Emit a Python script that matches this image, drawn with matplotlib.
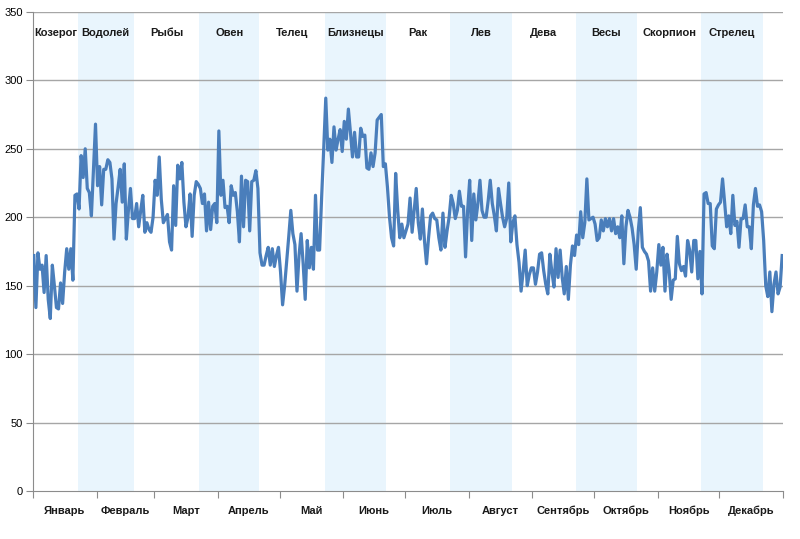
import numpy as np
import matplotlib
matplotlib.use('Agg')
import matplotlib.pyplot as plt

# Значения по дням (0 = 1 января)
values = [
    172, 134, 174, 162, 165, 145, 172, 140, 126, 165, 150, 134, 133, 152, 137, 160,
    177, 162, 177, 154, 216, 217, 206, 245, 229, 250, 221, 218, 201, 235, 268,
    223, 237, 209, 235, 235, 242, 240, 228, 184, 210, 222, 235, 211, 239, 184,
    205, 221, 199, 199, 210, 193, 205, 216, 189, 196, 191, 189, 200,
    227, 216, 244, 213, 196, 199, 202, 182, 176, 223, 194, 238, 228, 240, 211,
    193, 200, 217, 186, 216, 226, 224, 221, 210, 217, 190, 211, 191, 208, 210,
    196, 263, 216, 227, 207, 208, 196, 223, 216, 218, 204, 182, 230, 193, 227,
    226, 190, 226, 227, 234, 221, 174, 165, 165, 172, 178, 165, 177, 164, 172,
    178, 160, 136, 150, 168, 186, 205, 188, 180, 146, 172, 188, 166, 140, 183,
    163, 178, 162, 216, 176, 176, 215, 250, 287, 249, 257, 240, 266, 249, 257,
    264, 248, 270, 257, 279, 262, 244, 262, 244, 244, 265, 259, 260, 236, 235,
    247, 237, 247, 271, 273, 275, 237, 239, 222, 200, 185, 179, 232, 205, 185,
    195, 185, 190, 195, 214, 189, 205, 221, 196, 184, 206, 183, 166, 185, 201,
    203, 199, 198, 185, 176, 203, 178, 190, 200, 216, 210, 199, 205, 219, 208,
    208, 171, 205, 227, 183, 217, 198, 210, 227, 205, 200, 200, 212, 227, 210,
    201, 190, 221, 210, 200, 193, 199, 225, 182, 196, 201, 180, 167, 146, 160,
    176, 150, 158, 163, 163, 151, 160, 173, 174, 161, 151, 144, 173, 160, 149,
    177, 156, 176, 156, 144, 164, 140, 165, 179, 172, 187, 180, 204, 185, 196,
    228, 198, 199, 200, 195, 183, 185, 198, 190, 199, 193, 199, 190, 199, 188,
    193, 185, 201, 166, 193, 205, 200, 192, 180, 162, 190, 207, 178, 175, 173,
    168, 146, 163, 146, 160, 180, 165, 178, 146, 173, 161, 140, 154, 155, 186,
    166, 161, 164, 157, 183, 176, 160, 183, 183, 155, 175, 144, 217, 218, 210,
    210, 179, 177, 206, 209, 211, 228, 211, 193, 201, 188, 216, 194, 197, 178,
    199, 199, 209, 193, 193, 177, 209, 221, 208, 209, 204, 183, 150, 142, 160,
    131, 151, 160, 144, 149, 172,
]

months = ['Январь', 'Февраль', 'Март', 'Апрель', 'Май', 'Июнь', 'Июль',
          'Август', 'Сентябрь', 'Октябрь', 'Ноябрь', 'Декабрь']
month_start = [0, 31, 59, 90, 120, 151, 181, 212, 243, 273, 304, 334, 365]

signs = ['Козерог', 'Водолей', 'Рыбы', 'Овен', 'Телец', 'Близнецы', 'Рак',
         'Лев', 'Дева', 'Весы', 'Скорпион', 'Стрелец', '']
sign_start = [0, 22, 49, 81, 110, 142, 172, 203, 233, 264, 294, 325, 355, 365]

plt.rcParams['font.family'] = ['Liberation Sans', 'DejaVu Sans']

fig = plt.figure(figsize=(8, 5.39), dpi=100)
ax = fig.add_axes([0.041, 0.089, 0.938, 0.889])

days = np.arange(len(values))

# полосы знаков зодиака (через один)
for k in range(len(signs)):
    a, b = sign_start[k] - 0.5, sign_start[k + 1] - 0.5
    if k % 2 == 1:
        ax.axvspan(a, b, color='#E9F5FD', lw=0, zorder=0)
    if signs[k]:
        ax.text((a + b) / 2, 332.5, signs[k], ha='center', va='baseline',
                fontsize=8, fontweight='bold', color='#1a1a1a')

for yv in range(50, 351, 50):
    ax.axhline(yv, color='#A6A6A6', lw=1, zorder=1)

ax.plot(days, values, color='#4A7EBB', lw=2.3, zorder=3, solid_joinstyle='round')

ax.set_xlim(-0.5, 364.5)
ax.set_ylim(0, 350)
ax.set_yticks(range(0, 351, 50))
ax.tick_params(axis='y', labelsize=8, length=5, color='#8C8C8C', pad=2)

ax.set_xticks([m - 0.5 for m in month_start])
ax.set_xticklabels([])
ax.tick_params(axis='x', length=5, color='#8C8C8C')
for k, name in enumerate(months):
    mid = (month_start[k] + month_start[k + 1]) / 2 - 0.5
    ax.text(mid, -16.8, name, ha='center', va='baseline', fontsize=8,
            fontweight='bold', color='#1a1a1a', clip_on=False)

for s in ['top', 'right']:
    ax.spines[s].set_visible(False)
ax.spines['left'].set_color('#8C8C8C')
ax.spines['bottom'].set_color('#8C8C8C')

fig.savefig('out.png', dpi=100)
